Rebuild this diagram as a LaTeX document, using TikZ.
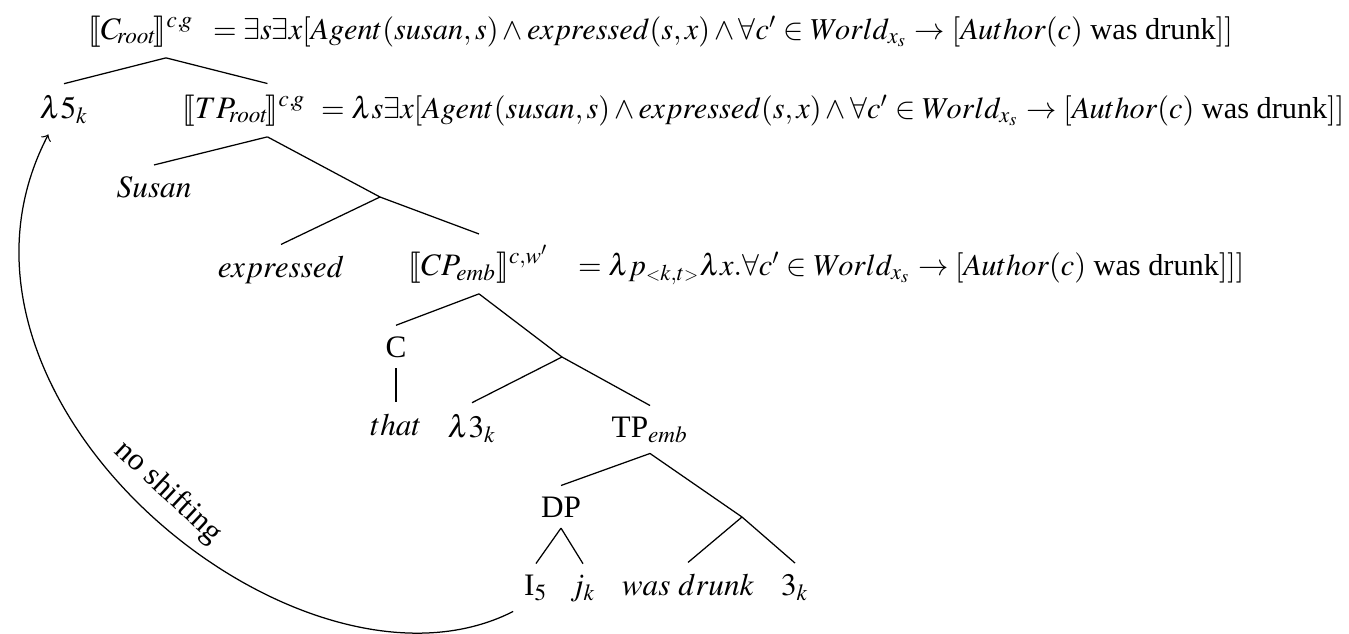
\documentclass[tikz,border=0pt]{standalone}
\usepackage{mathptmx}
\usepackage{stmaryrd}
\usepackage{fontspec}
\setmainfont{Liberation Serif}
\usetikzlibrary{positioning}

\begin{document}
\begin{tikzpicture}[x=0.32pt, y=-0.32pt,
        lab/.style={anchor=base},
        sem/.style={anchor=base west, font=\fontsize{9.7pt}{12pt}\selectfont},
        branch/.style={draw=black, thin},
        arr/.style={->, thin}
    ]
    \useasboundingbox (0,0) rectangle (1349,633);

    % tree nodes
    \node[lab] (croot) at (141,39) {$\llbracket C_{\!root}\!\rrbracket^{c,\!g}$};
    \node[lab] (lam5) at (64,118) {$\lambda 5_k$};
    \node[lab] (tproot) at (244,118) {$\llbracket TP_{\!root}\!\rrbracket^{c,\!g}$};
    \node[lab] (susan) at (154,197) {$Susan$};
    \coordinate (vp) at (380,197);
    \node[lab] (expressed) at (281,277) {$expressed$};
    \node[lab] (cpemb) at (479,275) {$\llbracket CP_{emb}\rrbracket^{c,w'}$};
    \node[lab] (c) at (396,357) {C};
    \coordinate (cbar) at (562,357);
    \node[lab] (that) at (396,435) {$that$};
    \node[lab] (lam3) at (472,437) {$\lambda 3_k$};
    \node[lab] (tpemb) at (650,437) {TP$_{emb}$};
    \node[lab] (dp) at (561,517) {DP};
    \coordinate (vbar) at (742,517);
    \node[lab] (i5) at (536,595) {I$_5$};
    \node[lab] (jk) at (583,595) {$j_k$};
    \node[lab] (wasdrunk) at (688,595) {$was\ drunk$};
    \node[lab] (threek) at (795,595) {$3_k$};

    % denotations next to the nodes
    \node[sem] (crootsem) at (202,39) {$= \exists s\exists x[Agent(susan,s)\wedge expressed(s,x)\wedge\forall c'\in World_{x_s}\rightarrow[Author(c)\mbox{ was drunk}]]$};
    \node[sem] (tprootsem) at (310,118) {$= \lambda s\exists x[Agent(susan,s)\wedge expressed(s,x)\wedge\forall c'\in World_{x_s}\rightarrow[Author(c)\mbox{ was drunk}]]$};
    \node[sem] (cpembsem) at (567,275) {$= \lambda p_{{\scriptscriptstyle <}k,t{\scriptscriptstyle >}}\lambda x.\forall c'\in World_{x_s}\rightarrow[Author(c)\mbox{ was drunk}]]]$};

    \draw[branch] ([xshift=8pt]croot.south) -- (lam5.north);
    \draw[branch] ([xshift=8pt]croot.south) -- ([xshift=7.5pt]tproot.north);
    \draw[branch] ([xshift=7.5pt]tproot.south) -- (susan.north);
    \draw[branch] ([xshift=7.5pt]tproot.south) -- (vp);
    \draw[branch] (vp) -- (expressed.north);
    \draw[branch] (vp) -- (cpemb.north);
    \draw[branch] (cpemb.south) -- (c.north);
    \draw[branch] (cpemb.south) -- (cbar);
    \draw[branch] (c.south) -- (that.north);
    \draw[branch] (cbar) -- (lam3.north);
    \draw[branch] (cbar) -- (tpemb.north);
    \draw[branch] (tpemb.south) -- (dp.north);
    \draw[branch] (tpemb.south) -- (vbar);
    \draw[branch] (dp.south) -- (i5.north);
    \draw[branch] (dp.south) -- (jk.north);
    \draw[branch] (vbar) -- (wasdrunk.north);
    \draw[branch] (vbar) -- (threek.north);

    % binding arc
    \draw[arr] (i5.south west) .. controls (300,720) and (-90,400) .. ([xshift=-5pt]lam5.south)
        node[pos=0.5, sloped, above=1pt] {no shifting};
\end{tikzpicture}
\end{document}
